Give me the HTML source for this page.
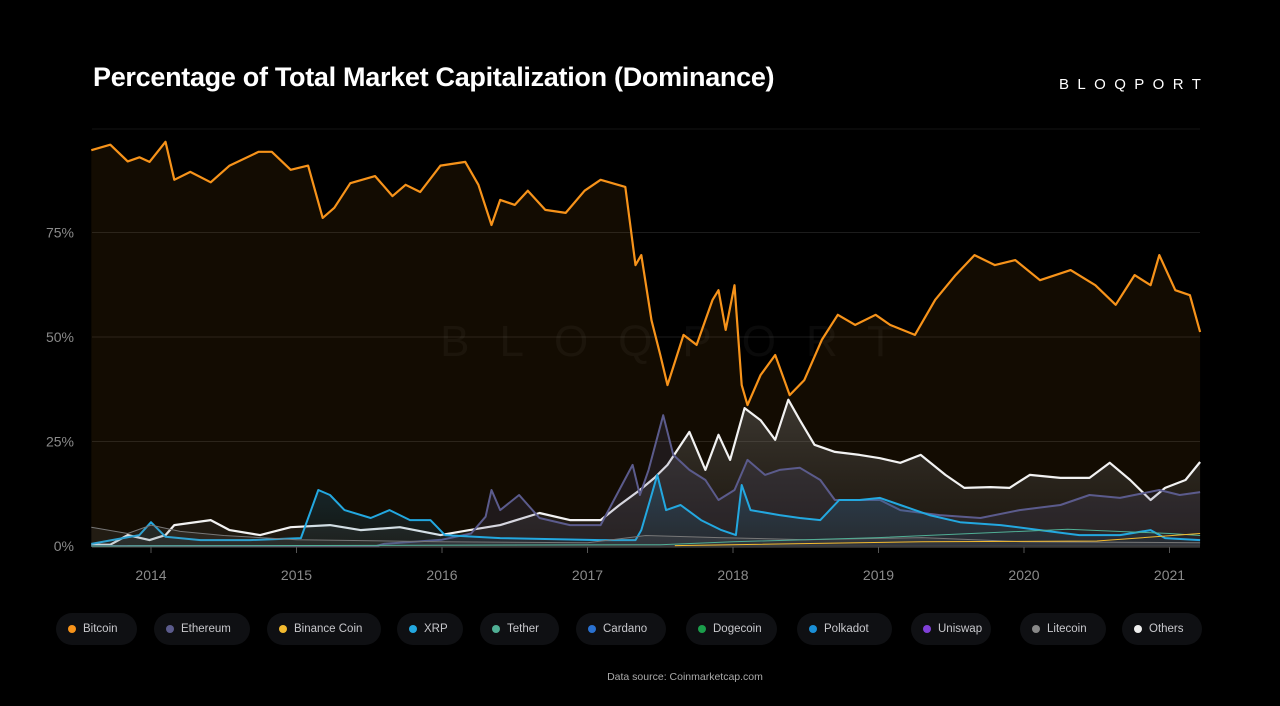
<!DOCTYPE html>
<html><head><meta charset="utf-8"><style>
body{margin:0;background:#000;width:1280px;height:706px;overflow:hidden;font-family:"Liberation Sans",sans-serif;color:#fff}
#title{position:absolute;left:93px;top:62px;font-size:27px;font-weight:bold;margin:0;letter-spacing:-0.3px}
#logo{position:absolute;left:1059px;top:76px;font-size:15px;letter-spacing:8.4px}
#legend{position:absolute;left:56px;top:613px;width:1150px;height:32px}
.pill{position:absolute;top:0;height:32px;border-radius:16px;background:#0f1013;font-size:11.5px;color:#c8c8cc;line-height:32px;box-sizing:border-box;padding-left:27px}
.pill i{position:absolute;left:12px;top:12px;width:8px;height:8px;border-radius:50%}
#src{position:absolute;top:671px;left:0;width:1370px;text-align:center;font-size:10.5px;color:#aaa}
</style></head><body>
<h1 id="title">Percentage of Total Market Capitalization (Dominance)</h1>
<div id="logo">BLOQPORT</div>
<svg id="chart" width="1280" height="600" style="position:absolute;left:0;top:0"></svg>
<div id="legend"></div>
<div id="src">Data source: Coinmarketcap.com</div>
<script>
const btcDates=[2013.59,2013.72,2013.84,2013.92,2013.99,2014.10,2014.16,2014.27,2014.41,2014.54,2014.74,2014.83,2014.96,2015.08,2015.18,2015.26,2015.37,2015.54,2015.66,2015.75,2015.85,2015.99,2016.16,2016.25,2016.34,2016.40,2016.50,2016.59,2016.71,2016.85,2016.98,2017.09,2017.26,2017.33,2017.37,2017.44,2017.50,2017.55,2017.66,2017.75,2017.86,2017.90,2017.95,2018.01,2018.06,2018.10,2018.19,2018.29,2018.39,2018.49,2018.61,2018.72,2018.84,2018.98,2019.08,2019.25,2019.39,2019.53,2019.66,2019.80,2019.94,2020.11,2020.32,2020.49,2020.63,2020.76,2020.87,2020.93,2021.04,2021.14,2021.21];
const btcValues=[94.7,96,92,93,91.9,96.7,87.6,89.5,87,91,94.3,94.3,90,91,78.5,80.9,86.8,88.5,83.7,86.4,84.7,91,91.9,86.4,76.8,82.8,81.6,85,80.4,79.7,85,87.6,85.9,67.2,69.6,54,45.7,38.5,50.5,48.1,58.9,61.2,51.7,62.4,38.5,33.7,40.9,45.7,36.1,39.7,49.3,55.3,52.9,55.3,52.9,50.5,58.9,64.8,69.6,67.2,68.4,63.6,66,62.4,57.7,64.8,62.4,69.6,61.2,60,51.2];
const othDates=[2013.59,2013.72,2013.84,2013.99,2014.10,2014.16,2014.41,2014.54,2014.75,2014.96,2015.23,2015.44,2015.71,2015.99,2016.19,2016.40,2016.67,2016.88,2017.09,2017.22,2017.36,2017.46,2017.55,2017.70,2017.81,2017.90,2017.98,2018.08,2018.19,2018.29,2018.38,2018.46,2018.56,2018.70,2018.87,2019.01,2019.15,2019.29,2019.46,2019.59,2019.77,2019.90,2020.04,2020.25,2020.45,2020.59,2020.73,2020.87,2020.97,2021.11,2021.21];
const othValues=[0.3,0.3,2.6,1.4,2.6,5,6.2,3.8,2.6,4.5,5,3.8,4.5,2.6,3.8,5,7.9,6.2,6.2,9.8,13.4,16.3,19.4,27.3,18.2,26.6,20.6,33,30.1,25.4,35,30.1,24.2,22.5,21.8,21,19.9,21.8,17,13.9,14.1,13.9,17,16.3,16.3,19.9,15.8,11,13.9,15.8,20.1];
const ethDates=[2013.59,2015.55,2015.6,2016.0,2016.2,2016.3,2016.34,2016.40,2016.53,2016.67,2016.88,2017.09,2017.31,2017.36,2017.42,2017.52,2017.59,2017.70,2017.81,2017.90,2018.01,2018.10,2018.22,2018.32,2018.46,2018.60,2018.70,2018.87,2019.01,2019.15,2019.42,2019.70,2019.97,2020.25,2020.45,2020.66,2020.93,2021.07,2021.21];
const ethValues=[0,0,0.5,1.5,3,7,13.4,8.6,12.2,6.7,5,5,19.4,12.2,18.2,31.3,21.8,18.2,15.8,11,13.4,20.6,17,18.2,18.7,15.8,11,11,11,8.6,7.4,6.7,8.6,9.8,12.2,11.5,13.4,12.2,12.9];
const xrpDates=[2013.59,2013.92,2014.00,2014.10,2014.34,2014.68,2015.03,2015.15,2015.23,2015.33,2015.51,2015.64,2015.78,2015.92,2016.02,2016.40,2017.09,2017.33,2017.37,2017.43,2017.48,2017.54,2017.64,2017.78,2017.92,2018.02,2018.06,2018.12,2018.32,2018.46,2018.60,2018.73,2018.87,2019.01,2019.15,2019.35,2019.56,2019.84,2020.11,2020.38,2020.66,2020.87,2020.97,2021.21];
const xrpValues=[0.5,2.6,5.7,2.2,1.4,1.4,1.9,13.4,12.2,8.6,6.7,8.6,6.2,6.2,2.6,1.9,1.4,1.4,3.8,11,17,8.6,9.8,6.2,3.8,2.6,14.6,8.6,7.4,6.7,6.2,11,11,11.5,9.8,7.4,5.7,5,3.8,2.6,2.6,3.8,1.9,1.4];
const ltcDates=[2013.59,2013.84,2014.00,2014.2,2014.5,2015.0,2016.0,2017.0,2017.4,2017.9,2018.5,2019.3,2020.0,2021.21];
const ltcValues=[4.5,3,5,3.5,2.5,1.5,1,0.8,2.5,2,1.5,2,1,0.8];
const usdtDates=[2013.59,2017.5,2018.0,2019.0,2020.3,2021.0,2021.21];
const usdtValues=[0,0.3,1,2,4,3,2.5];
const bnbDates=[2017.6,2019.3,2020.5,2021.21];
const bnbValues=[0.1,1,1.2,3];
const yTicks=[0,25,50,75];
const yTickLabels=["0%","25%","50%","75%"];
const xTicks=[2014,2015,2016,2017,2018,2019,2020,2021];
const legendNames=["Bitcoin","Ethereum","Binance Coin","XRP","Tether","Cardano","Dogecoin","Polkadot","Uniswap","Litecoin","Others"];
const legendColors=["#f7931a","#5b5b8c","#f3ba2f","#23a8e0","#50af95","#2a71d0","#1b9e4b","#1a8fd6","#8040d8","#888","#eee"];

const NS="http://www.w3.org/2000/svg";
const svg=document.getElementById('chart');
const X=y=>151+(y-2014)*145.5;
const Y=v=>546-v*4.18;
function mk(t,a,p){const e=document.createElementNS(NS,t);for(const k in a)e.setAttribute(k,a[k]);(p||svg).appendChild(e);return e;}
const defs=mk('defs',{});
defs.innerHTML='<linearGradient id="go" x1="0" y1="0" x2="0" y2="1"><stop offset="0" stop-color="#8a8a8a" stop-opacity="0.35"/><stop offset="1" stop-color="#555" stop-opacity="0.15"/></linearGradient><linearGradient id="gx" x1="0" y1="0" x2="0" y2="1"><stop offset="0" stop-color="#1f6f9a" stop-opacity="0.3"/><stop offset="1" stop-color="#1f6f9a" stop-opacity="0.1"/></linearGradient>';
yTicks.forEach((t,i)=>{
  const g=mk('line',{x1:92,x2:1200,y1:Y(t),y2:Y(t),stroke:'#1c1c1c','stroke-width':1});
  
  
  const l=mk('text',{x:74,y:Y(t)+5,'text-anchor':'end','font-size':14,fill:'#8a8a8a','font-family':'Liberation Sans'});
  l.textContent=yTickLabels[i];
  
  
});
mk('line',{x1:92,x2:1200,y1:Y(100)+1,y2:Y(100)+1,stroke:'#141414'});
const wm=mk('text',{x:682,y:356,'text-anchor':'middle','font-size':44,fill:'#fff','fill-opacity':0.04,'letter-spacing':30,'font-family':'Liberation Sans'});
wm.textContent='BLOQPORT';


function series(d,v,color,w,fill,name){
  let p=d.map((x,i)=>(i?'L':'M')+X(x).toFixed(1)+','+Y(v[i]).toFixed(1)).join('');
  if(fill){const a=mk('path',{d:p+'L'+X(d[d.length-1])+','+Y(0)+'L'+X(d[0])+','+Y(0)+'Z',fill:fill});
    
    }
  const l=mk('path',{d:p,fill:'none',stroke:color,'stroke-width':w,'stroke-linejoin':'round'});
  
  
}
series(btcDates,btcValues,'#f7931a',2.2,'rgba(247,147,26,0.08)','bitcoin');
series(othDates,othValues,'#f2f2f2',2.2,'url(#go)','others');
series(ethDates,ethValues,'#5b5b8c',2,'rgba(90,90,140,0.18)','ethereum');
series(xrpDates,xrpValues,'#23a8e0',2,'url(#gx)','xrp');
series(ltcDates,ltcValues,'#777',1,'rgba(120,120,120,0.15)','litecoin');
series(usdtDates,usdtValues,'#50af95',1,null,'tether');
series(bnbDates,bnbValues,'#f3ba2f',1,null,'binance-coin');
mk('line',{x1:92,x2:1200,y1:547,y2:547,stroke:'#555','stroke-width':1});
xTicks.forEach(t=>{
  mk('line',{x1:X(t),x2:X(t),y1:547,y2:553,stroke:'#555'});
  const l=mk('text',{x:X(t),y:580,'text-anchor':'middle','font-size':14,fill:'#8a8a8a','font-family':'Liberation Sans'});
  l.textContent=t;
  
  
});
const lg=document.getElementById('legend');
const pillX=[0,98,211,341,424,520,630,741,855,964,1066];
const pillW=[81,96,114,66,79,90,91,95,80,86,80];
legendNames.forEach((n,i)=>{
  const p=document.createElement('div');p.className='pill';
  p.style.left=pillX[i]+'px';p.style.width=pillW[i]+'px';
  p.innerHTML='<i style="background:'+legendColors[i]+'"></i>'+n;
  
  
  lg.appendChild(p);
});
</script>
</body></html>
